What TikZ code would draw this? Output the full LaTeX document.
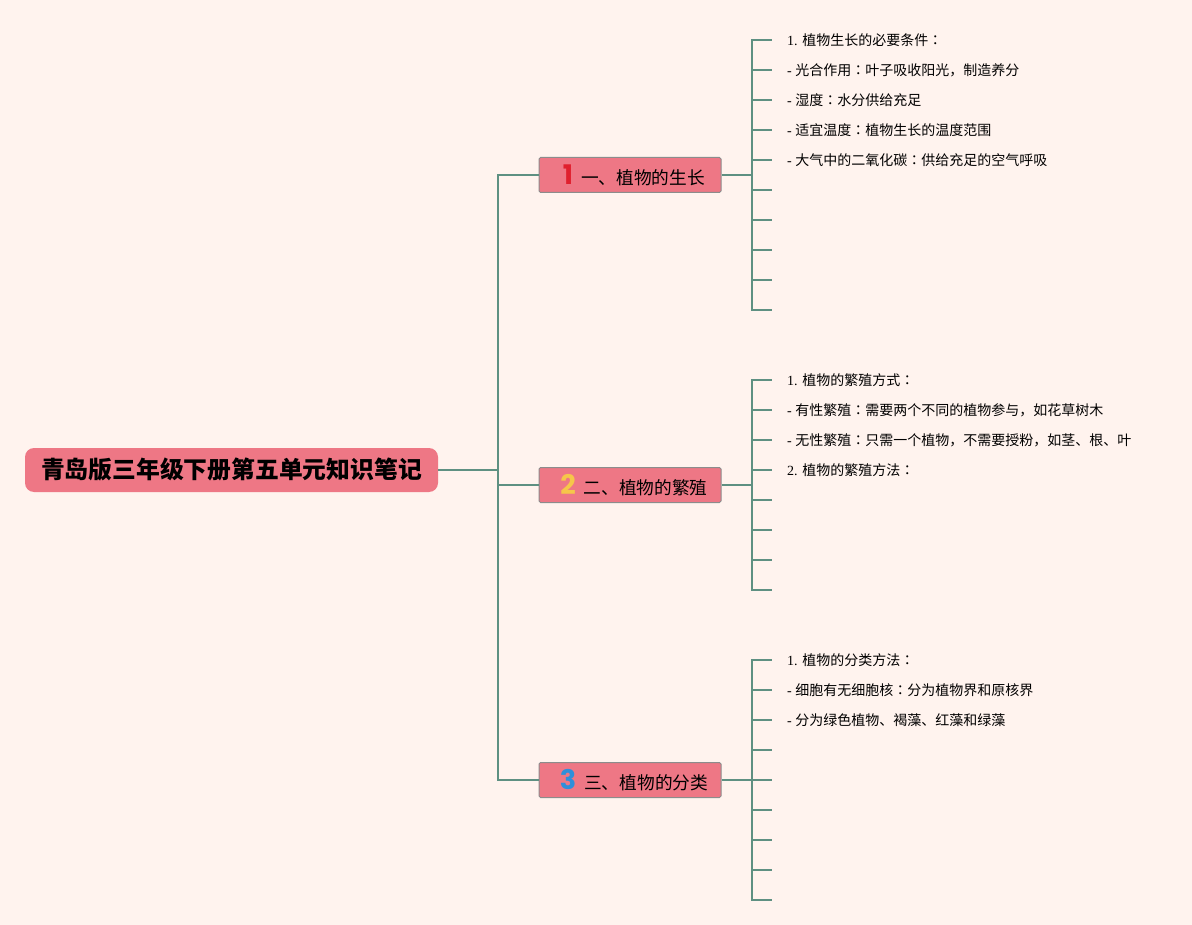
\documentclass[tikz,border=0pt]{standalone}
\usepackage{fontspec}
\setmainfont{Liberation Serif}
\newfontfamily\cjk{Noto Sans CJK SC}
\newfontfamily\cjkjp{Noto Sans CJK JP}
\newfontfamily\numfont{Poppins}
\usetikzlibrary{positioning}
\definecolor{clrBg}{HTML}{FFF3EE}
\definecolor{clrNode}{HTML}{EE7785}
\definecolor{clrLine}{HTML}{5E9082}
\definecolor{clrEdge}{HTML}{8C8C8C}
\definecolor{clrOne}{HTML}{E0202E}
\definecolor{clrTwo}{HTML}{F6C64A}
\definecolor{clrThree}{HTML}{2F8FDA}
\newcommand{\lf}[2]{#1 {\cjk #2}}
\newcommand{\fcol}{{\cjkjp ：}}
\newcommand{\badge}[2]{\hspace{8pt}{\numfont\bfseries\fontsize{27}{27}\selectfont\color{#1}#2}\hspace{8pt}}
\tikzset{
  root/.style = {rectangle, rounded corners=9pt, fill=clrNode, minimum width=413pt,
                 minimum height=44pt, inner sep=0pt, font=\cjk\bfseries\fontsize{23.8}{28}\selectfont},
  branch/.style = {rectangle, rounded corners=1.5pt, fill=clrNode, draw=clrEdge, line width=1pt,
                   minimum width=182pt, minimum height=35pt, inner sep=0pt,
                   font=\cjk\fontsize{17.7}{20}\selectfont},
  leaf/.style = {inner sep=0pt, font=\fontsize{14}{16}\selectfont},
  conn/.style = {draw=clrLine, line width=1.8pt},
}

\begin{document}
\begin{tikzpicture}[x=1pt, y=-1pt]
  \fill[clrBg] (0,0) rectangle (1192,925);
  \useasboundingbox (0,0) rectangle (1192,925);

  % --- Root and branches ---
  \node[root] at (231.5,470) (root) {青岛版三年级下册第五单元知识笔记};
  \node[branch] at (630,175) (b1) {\badge{clrOne}{1}一、植物的生长};
  \node[branch] at (630,485) (b2) {\badge{clrTwo}{2}二、植物的繁殖};
  \node[branch] at (630,780) (b3) {\badge{clrThree}{3}三、植物的分类};

  \coordinate (hub) at (498,470);
  \draw[conn] (root.east) -- (hub);
  \draw[conn] (hub) |- (b1.west);
  \draw[conn] (hub) |- (b2.west);
  \draw[conn] (hub) |- (b3.west);

  % --- Branch 1 leaves ---
  \coordinate (j1) at (752,175);
  \draw[conn] (b1.east) -- (j1);
  \foreach \k in {1,...,10} {
    \coordinate (t1-\k) at (772,10+30*\k);
    \draw[conn] (j1) |- (t1-\k);
  }
  \node[leaf, right=15pt of t1-1] (l1-1) {\lf{1.}{植物生长的必要条件\fcol}};
  \node[leaf, right=15pt of t1-2] (l1-2) {\lf{-}{光合作用\fcol 叶子吸收阳光，制造养分}};
  \node[leaf, right=15pt of t1-3] (l1-3) {\lf{-}{湿度\fcol 水分供给充足}};
  \node[leaf, right=15pt of t1-4] (l1-4) {\lf{-}{适宜温度\fcol 植物生长的温度范围}};
  \node[leaf, right=15pt of t1-5] (l1-5) {\lf{-}{大气中的二氧化碳\fcol 供给充足的空气呼吸}};

  % --- Branch 2 leaves ---
  \coordinate (j2) at (752,485);
  \draw[conn] (b2.east) -- (j2);
  \foreach \k in {1,...,8} {
    \coordinate (t2-\k) at (772,350+30*\k);
    \draw[conn] (j2) |- (t2-\k);
  }
  \node[leaf, right=15pt of t2-1] (l2-1) {\lf{1.}{植物的繁殖方式\fcol}};
  \node[leaf, right=15pt of t2-2] (l2-2) {\lf{-}{有性繁殖\fcol 需要两个不同的植物参与，如花草树木}};
  \node[leaf, right=15pt of t2-3] (l2-3) {\lf{-}{无性繁殖\fcol 只需一个植物，不需要授粉，如茎、根、叶}};
  \node[leaf, right=15pt of t2-4] (l2-4) {\lf{2.}{植物的繁殖方法\fcol}};

  % --- Branch 3 leaves ---
  \coordinate (j3) at (752,780);
  \draw[conn] (b3.east) -- (j3);
  \foreach \k in {1,...,9} {
    \coordinate (t3-\k) at (772,630+30*\k);
    \draw[conn] (j3) |- (t3-\k);
  }
  \node[leaf, right=15pt of t3-1] (l3-1) {\lf{1.}{植物的分类方法\fcol}};
  \node[leaf, right=15pt of t3-2] (l3-2) {\lf{-}{细胞有无细胞核\fcol 分为植物界和原核界}};
  \node[leaf, right=15pt of t3-3] (l3-3) {\lf{-}{分为绿色植物、褐藻、红藻和绿藻}};
\end{tikzpicture}
\end{document}
